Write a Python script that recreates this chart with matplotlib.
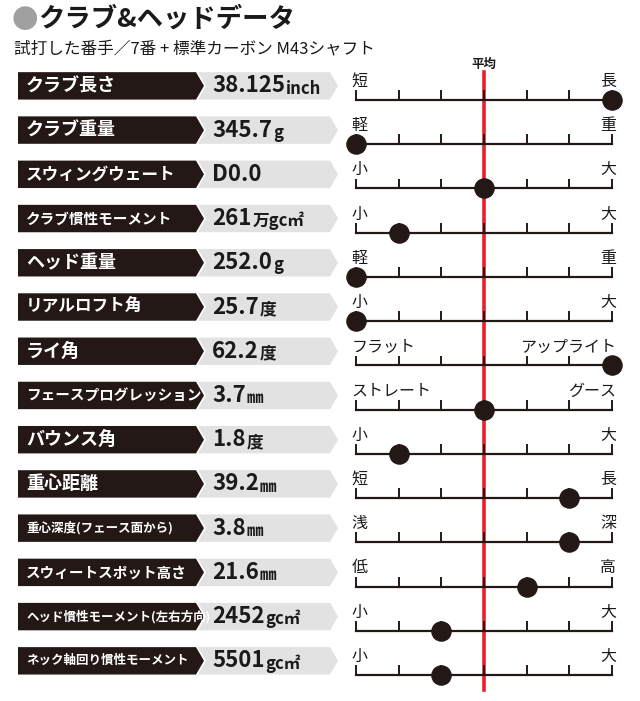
import matplotlib
matplotlib.use("Agg")
import matplotlib.pyplot as plt
from matplotlib.patches import Polygon

labels = ["クラブ長さ","クラブ重量","スウィングウェート","クラブ慣性モーメント","ヘッド重量","リアルロフト角","ライ角",
          "フェースプログレッション","バウンス角","重心距離","重心深度(フェース面から)","スウィートスポット高さ",
          "ヘッド慣性モーメント(左右方向)","ネック軸回り慣性モーメント"]
nums = ["38.125","345.7","D0.0","261","252.0","25.7","62.2","3.7","1.8","39.2","3.8","21.6","2452","5501"]
units = ["inch","g","","万gc㎡","g","度","度","㎜","度","㎜","㎜","㎜","gc㎡","gc㎡"]
left_ends = ["短","軽","小","小","軽","小","フラット","ストレート","小","短","浅","低","小","小"]
right_ends = ["長","重","大","大","重","大","アップライト","グース","大","長","深","高","大","大"]
positions = [6,0,3,1,0,0,6,3,1,5,5,4,2,2]  # 0..6 scale, 3 = average

FONT = "Noto Sans CJK JP"
W, H = 640, 701
fig = plt.figure(figsize=(6.4, 7.01), dpi=100)
bg = fig.add_axes([0, 0, 1, 1]); bg.set_xlim(0, W); bg.set_ylim(H, 0); bg.axis("off")
bg.text(12, 20, "●", color="#a0a0a0", fontsize=19, fontfamily=FONT, va="center")
bg.text(38, 19, "クラブ&ヘッドデータ", color="#1a1a1a", fontsize=19, fontweight="bold", fontfamily=FONT, va="center")
bg.text(14, 49, "試打した番手／7番 + 標準カーボン M43シャフト", color="#1a1a1a", fontsize=12, fontfamily=FONT, va="center")
bg.text(484, 64, "平均", color="#1a1a1a", fontsize=9, fontweight="bold", fontfamily=FONT, ha="center", va="center")
bg.plot([484, 484], [72, 690], color="#e8202a", lw=2.6, zorder=5)

top, bot = 77.9, 697.1
rows = len(labels)
ax_l = fig.add_axes([0, 1 - bot / H, 345 / W, (bot - top) / H])
ax_l.set_xlim(0, 345); ax_l.set_ylim(rows - 0.5, -0.5); ax_l.axis("off")
ax_r = fig.add_axes([356 / W, 1 - bot / H, (612 - 356) / W, (bot - top) / H])
ax_r.set_xlim(0, 6); ax_r.set_ylim(rows - 0.5, -0.5); ax_r.axis("off")

fig.canvas.draw()
r = fig.canvas.get_renderer()
for i in range(rows):
    yc = i - 0.32; h = 0.31
    ax_l.add_patch(Polygon([(18, yc - h), (196, yc - h), (204, yc), (196, yc + h), (18, yc + h)],
                           closed=True, color="#231815", lw=0, clip_on=False))
    ax_l.add_patch(Polygon([(198, yc - h), (330, yc - h), (338, yc), (330, yc + h), (198, yc + h), (206, yc)],
                           closed=True, color="#e2e2e2", lw=0, clip_on=False))
    n = len(labels[i])
    fs = 13 if n <= 6 else (12 if n <= 9 else (10.5 if n <= 12 else 9))
    ax_l.text(26, yc, labels[i], color="white", fontsize=fs, fontweight="bold", fontfamily=FONT, va="center",
              clip_on=False)
    t = ax_l.text(212, yc, nums[i], color="#1a1a1a", fontsize=16, fontweight="bold", fontfamily=FONT,
                  va="center", clip_on=False)
    if units[i]:
        bb = t.get_window_extent(r)
        x1 = ax_l.transData.inverted().transform((bb.x1, 0))[0]
        ax_l.text(x1 + 1, yc + 0.06, units[i], color="#1a1a1a", fontsize=12, fontweight="bold",
                  fontfamily=FONT, va="center", clip_on=False)
    ax_r.plot([0, 6], [i, i], color="#231815", lw=1.6, clip_on=False)
    for k in range(7):
        ax_r.plot([k, k], [i, i - 0.2], color="#231815", lw=1.4, clip_on=False)
    ax_r.text(-0.1, i - 0.42, left_ends[i], fontsize=11.5, fontfamily=FONT, color="#1a1a1a", va="center", ha="left")
    ax_r.text(6.1, i - 0.42, right_ends[i], fontsize=11.5, fontfamily=FONT, color="#1a1a1a", va="center", ha="right")
    ax_r.scatter([positions[i]], [i], s=190, color="#231815", zorder=6, clip_on=False)

fig.savefig("out.png", dpi=100)
